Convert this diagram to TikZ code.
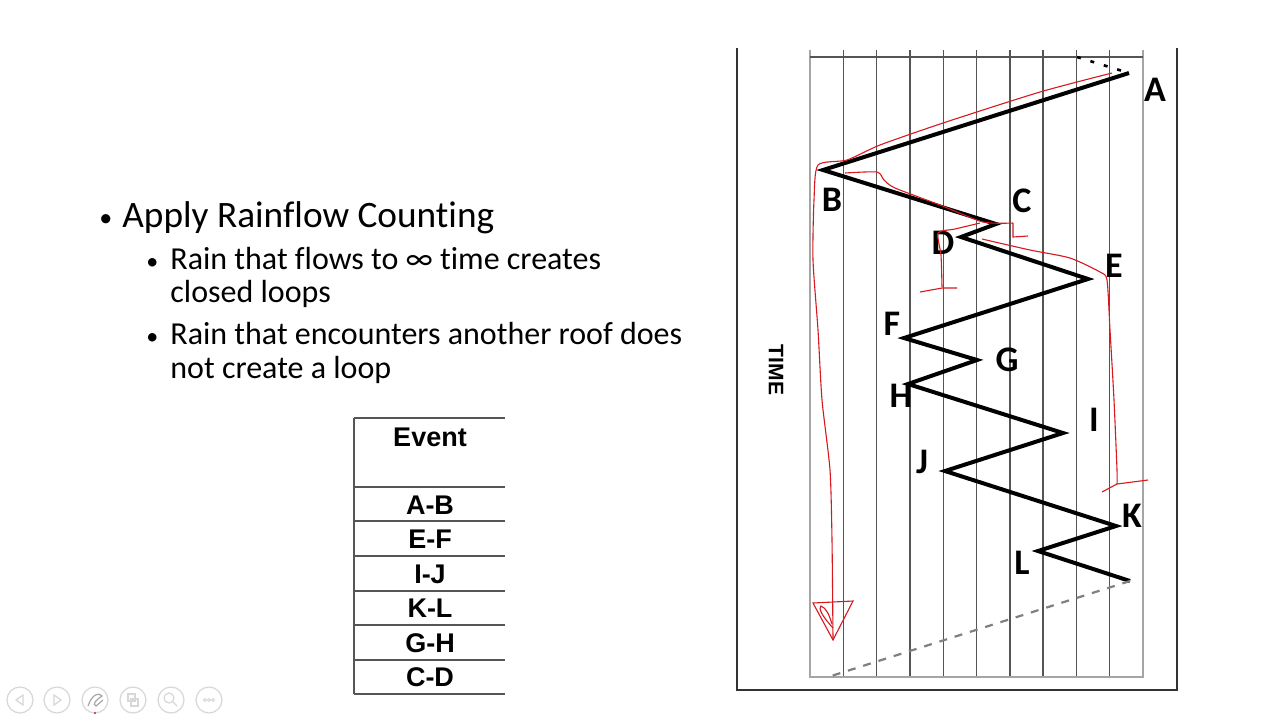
\documentclass[tikz,border=0pt]{standalone}
\usepackage{fontspec}
\setmainfont{Carlito}[Ligatures=NoCommon]
\newfontfamily\tablefont{Liberation Sans}
\usetikzlibrary{positioning}
\definecolor{gridgris}{RGB}{85,85,85}
\definecolor{bordgris}{RGB}{165,165,165}
\definecolor{pluierouge}{RGB}{215,25,30}
\definecolor{navgris}{RGB}{215,215,215}

\tikzset{
  signal/.style={line width=2pt, line join=miter},
  pluie/.style={pluierouge, line width=0.55pt},
  lettre/.style={font=\fontsize{18}{20}\selectfont\bfseries, inner sep=0pt},
  puce/.style={anchor=base west, inner sep=0pt},
  cellule/.style={font=\tablefont\fontsize{13.5}{15}\selectfont\bfseries, inner sep=0pt}
}

\begin{document}
\begin{tikzpicture}[x=0.5pt, y=-0.5pt]
    \useasboundingbox[fill=white] (0,0) rectangle (1280,720);

    % Texte
    \node[puce, font=\fontsize{13}{15}\selectfont] (p0) at (99,226) {•};
    \node[puce, font=\fontsize{18.65}{22}\selectfont] (t0) at (122,227) {Apply Rainflow Counting};
    \node[puce, font=\fontsize{12}{15}\selectfont] (p1) at (146,269) {•};
    \node[puce, font=\fontsize{16}{17}\selectfont] (t1) at (170,269) {Rain that flows to ∞ time creates};
    \node[puce, font=\fontsize{16}{17}\selectfont] (t1b) at (170,302) {closed loops};
    \node[puce, font=\fontsize{12}{15}\selectfont] (p2) at (146,344) {•};
    \node[puce, font=\fontsize{16}{17}\selectfont] (t2) at (170,344) {Rain that encounters another roof does};
    \node[puce, font=\fontsize{16}{17}\selectfont] (t2b) at (170,378) {not create a loop};

    % Tableau
    \draw[gridgris, line width=0.6pt] (354,418) -- (354,694);
    \foreach \y in {418,487,521,556,591,625,660,694}
        \draw[gridgris, line width=0.6pt] (354,\y) -- (505,\y);
    \node[cellule] (ev) at (430,437) {Event};
    \node[cellule] (r1) at (430,505) {A-B};
    \node[cellule] (r2) at (430,539) {E-F};
    \node[cellule] (r3) at (430,574) {I-J};
    \node[cellule] (r4) at (430,608) {K-L};
    \node[cellule] (r5) at (430,643) {G-H};
    \node[cellule] (r6) at (430,677) {C-D};

    % Cadre et grille
    \draw[black!80, line width=0.8pt] (737,48) -- (737,690) -- (1177,690) -- (1177,48);
    \foreach \i in {1,...,9}
        \draw[gridgris, line width=0.7pt] (810+33.3*\i,50) -- (810+33.3*\i,677);
    \draw[bordgris, line width=0.9pt] (810,50) -- (810,677) -- (1143,677) -- (1143,50);
    \draw[gridgris, line width=0.7pt] (810,57) -- (1143,57);
    \node[font=\tablefont\fontsize{10.5}{12}\selectfont\bfseries, rotate=-90] (temps) at (776,370) {TIME};

    % Historique
    \coordinate (A) at (1129,73);
    \coordinate (B) at (823,170);
    \coordinate (C) at (996,224);
    \coordinate (D) at (961,237);
    \coordinate (E) at (1088,279);
    \coordinate (F) at (904,338);
    \coordinate (G) at (977,360);
    \coordinate (H) at (908,384);
    \coordinate (I) at (1063,433);
    \coordinate (J) at (945,471);
    \coordinate (K) at (1116,526);
    \coordinate (L) at (1038,551);
    \coordinate (Z) at (1130,581);
    \coordinate (haut) at (1077,57);
    \coordinate (bas) at (828,677);

    \draw[signal] (A) -- (B) -- (C) -- (D) -- (E) -- (F) -- (G) -- (H) -- (I) -- (J) -- (K) -- (L) -- (Z);
    \draw[line width=1.3pt, dash pattern=on 2pt off 5pt] (haut) -- (A);
    \draw[gray, line width=1.1pt, dash pattern=on 4pt off 4pt] (Z) -- (bas);

    \node[lettre] (lA) at (1155,90) {A};
    \node[lettre] (lB) at (832,200) {B};
    \node[lettre] (lC) at (1022,201) {C};
    \node[lettre] (lD) at (943,243) {D};
    \node[lettre] (lE) at (1114,266) {E};
    \node[lettre] (lF) at (892,324) {F};
    \node[lettre] (lG) at (1007,360) {G};
    \node[lettre] (lH) at (901,396) {H};
    \node[lettre] (lI) at (1094,420) {I};
    \node[lettre] (lJ) at (922,462) {J};
    \node[lettre] (lK) at (1132,516) {K};
    \node[lettre] (lL) at (1022,563) {L};

    % Pluie
    \draw[pluie] plot[smooth, tension=0.4] coordinates {(1112,73) (1040,92) (943,123) (880,145) (847,160) (818,165) (814,200) (813,260) (818,330) (822,400) (830,470) (832,540) (833,640)};
    \draw[pluie] (833,640) -- (813,603) -- (853,601) -- cycle;
    \draw[pluie] (833,628) .. controls (822,616) and (818,608) .. (821,606) .. controls (826,608) and (829,614) .. (832,624);
    \draw[pluie] plot[smooth, tension=0.4] coordinates {(845,173) (877,172) (884,180) (895,188) (940,205) (983,222) (1013,223)};
    \draw[pluie] (1013,223) -- (1013,237) -- (1028,236);
    \draw[pluie] plot[smooth, tension=0.4] coordinates {(980,223) (955,229) (938,233) (941,255) (942,287)};
    \draw[pluie] (920,292) -- (942,288) -- (957,288);
    \draw[pluie] plot[smooth, tension=0.4] coordinates {(982,239) (1030,250) (1070,258) (1100,272) (1107,280) (1110,330) (1114,400) (1117,470) (1117,484)};
    \draw[pluie] (1102,492) -- (1117,484) -- (1148,480);

    % Navigation
    \foreach \x in {20,57,95,133,171,209}
        \draw[navgris, line width=0.6pt] (\x,700) circle[radius=13];
    \draw[navgris, line width=0.6pt] (23,695) -- (16,700) -- (23,705) -- cycle;
    \draw[navgris, line width=0.6pt] (54,695) -- (61,700) -- (54,705) -- cycle;
    \draw[gray!70, line width=0.6pt] (88,706) .. controls (92,694) and (99,692) .. (102,696) .. controls (96,700) and (92,704) .. (96,706) -- (103,700);
    \fill[pluierouge] (95,713) circle[radius=1.1];
    \draw[navgris, line width=0.6pt] (128,694) rectangle (135,701) (131,699) rectangle (138,706);
    \draw[navgris, line width=0.6pt] (169,698) circle[radius=5] (173,702) -- (177,706);
    \foreach \x in {205,209,213}
        \draw[navgris, line width=0.5pt] (\x,700) circle[radius=1.5];
\end{tikzpicture}
\end{document}
